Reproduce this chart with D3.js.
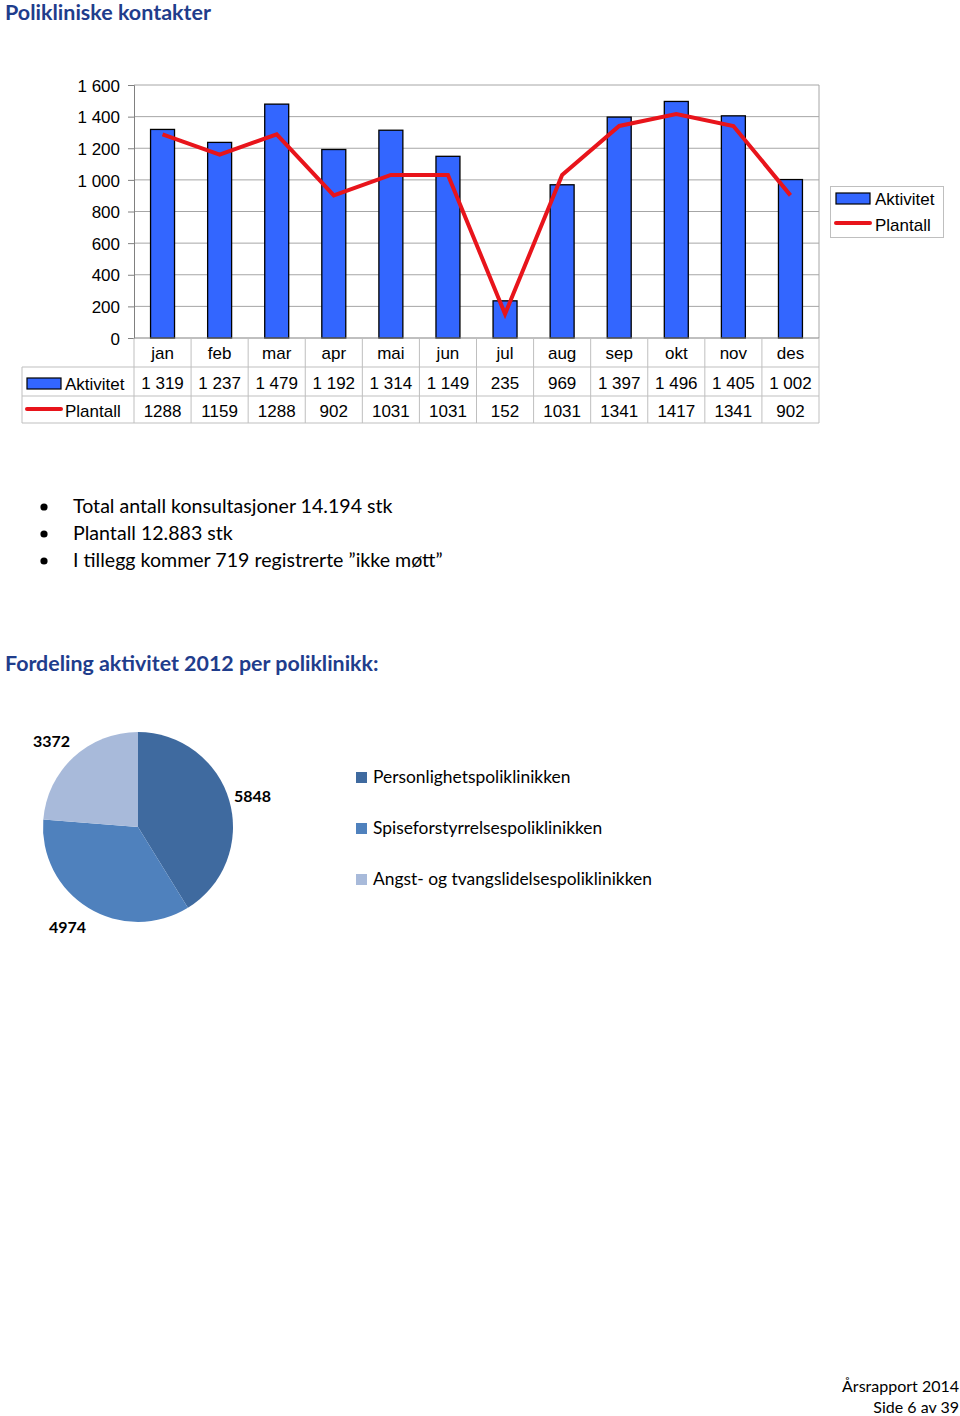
<!DOCTYPE html>
<html><head><meta charset="utf-8">
<script src="https://cdn.jsdelivr.net/npm/d3@7"></script>
<style>
body{margin:0;background:#fff;}
svg{display:block;}
</style></head>
<body>
<svg id="c" width="960" height="1416"></svg>
<script>
const months = ["jan","feb","mar","apr","mai","jun","jul","aug","sep","okt","nov","des"];
const aktivitet = [1319,1237,1479,1192,1314,1149,235,969,1397,1496,1405,1002];
const plantall = [1288,1159,1288,902,1031,1031,152,1031,1341,1417,1341,902];
const aktivitetLabels = ["1 319","1 237","1 479","1 192","1 314","1 149","235","969","1 397","1 496","1 405","1 002"];
const plantallLabels = ["1288","1159","1288","902","1031","1031","152","1031","1341","1417","1341","902"];
const yTicks = [0,200,400,600,800,1000,1200,1400,1600];
const yTickLabels = ["0","200","400","600","800","1 000","1 200","1 400","1 600"];
const seriesNames = ["Aktivitet","Plantall"];

const clinics = ["Personlighetspoliklinikken","Spiseforstyrrelsespoliklinikken","Angst- og tvangslidelsespoliklinikken"];
const clinicValues = [5848,4974,3372];
const clinicColors = ["#3F6A9F","#4F81BD","#A8BADA"];

const bullets = ["Total antall konsultasjoner 14.194 stk","Plantall 12.883 stk","I tillegg kommer 719 registrerte \u201Dikke m\u00f8tt\u201D"];

const svg = d3.select("#c");
const arial = "'Liberation Sans', Arial, sans-serif";
const cal = "Lato, 'Open Sans', sans-serif";
const titleBlue = "#1F3D8C";

// Title
svg.append("text").attr("x",5).attr("y",20).attr("font-family",cal).attr("font-weight","bold")
  .attr("font-size",21.5).attr("fill",titleBlue).text("Polikliniske kontakter");

// Chart
const L=134, R=819, T=85, B=338;
const x = d3.scaleBand().domain(months).range([L,R]);
const y = d3.scaleLinear().domain([0,1600]).range([B,T]);

const g = svg.append("g");
g.selectAll("line.grid").data(yTicks.slice(1)).join("line")
  .attr("x1",L).attr("x2",R).attr("y1",d=>y(d)).attr("y2",d=>y(d))
  .attr("stroke","#a6a6a6").attr("stroke-width",1);
g.append("line").attr("x1",R).attr("x2",R).attr("y1",T).attr("y2",B).attr("stroke","#a6a6a6");

const yAxis = d3.axisLeft(y).tickValues(yTicks).tickFormat((d,i)=>yTickLabels[i]).tickSize(6).tickPadding(8);
const ax = g.append("g").attr("transform",`translate(${L},0)`).call(yAxis);
ax.select(".domain").attr("stroke","#808080");
ax.selectAll(".tick line").attr("stroke","#808080");
ax.selectAll("text").attr("font-family",arial).attr("font-size",17).attr("fill","#000").attr("dy","0.36em");

const bw = x.bandwidth()*0.42;
g.selectAll("rect.bar").data(aktivitet).join("rect")
  .attr("x",(d,i)=>x(months[i])+x.bandwidth()/2-bw/2)
  .attr("y",d=>y(d)).attr("width",bw).attr("height",d=>B-y(d))
  .attr("fill","#3366FF").attr("stroke","#000").attr("stroke-width",1.3);

g.append("line").attr("x1",L).attr("x2",R).attr("y1",B).attr("y2",B).attr("stroke","#808080");

const line = d3.line().x((d,i)=>x(months[i])+x.bandwidth()/2).y(d=>y(d));
g.append("path").datum(plantall).attr("d",line).attr("fill","none")
  .attr("stroke","#E8141B").attr("stroke-width",4).attr("stroke-linejoin","miter");

// data table
const rows=[338,367,396,423];
const tc="#bfbfbf";
g.append("line").attr("x1",22).attr("x2",R).attr("y1",rows[1]).attr("y2",rows[1]).attr("stroke",tc);
g.append("line").attr("x1",22).attr("x2",R).attr("y1",rows[2]).attr("y2",rows[2]).attr("stroke",tc);
g.append("line").attr("x1",22).attr("x2",R).attr("y1",rows[3]).attr("y2",rows[3]).attr("stroke",tc);
g.append("line").attr("x1",22).attr("x2",22).attr("y1",rows[1]).attr("y2",rows[3]).attr("stroke",tc);
g.selectAll("line.vb").data(months.concat(["_end"])).join("line")
  .attr("x1",(d,i)=>L+i*x.step()).attr("x2",(d,i)=>L+i*x.step())
  .attr("y1",B).attr("y2",rows[3]).attr("stroke",tc);

const txt = (sel)=>sel.attr("font-family",arial).attr("font-size",17).attr("fill","#000").attr("text-anchor","middle");
g.selectAll("text.m").data(months).join("text").call(txt)
  .attr("x",d=>x(d)+x.bandwidth()/2).attr("y",359).text(d=>d);
g.selectAll("text.a").data(aktivitetLabels).join("text").call(txt)
  .attr("x",(d,i)=>x(months[i])+x.bandwidth()/2).attr("y",389).text(d=>d);
g.selectAll("text.p").data(plantallLabels).join("text").call(txt)
  .attr("x",(d,i)=>x(months[i])+x.bandwidth()/2).attr("y",417).text(d=>d);

g.append("rect").attr("x",27).attr("y",378).attr("width",34).attr("height",11).attr("fill","#3366FF").attr("stroke","#000").attr("stroke-width",1.2);
g.append("text").call(txt).attr("text-anchor","start").attr("x",65).attr("y",390).text(seriesNames[0]);
g.append("line").attr("x1",27).attr("x2",61).attr("y1",409).attr("y2",409).attr("stroke","#E8141B").attr("stroke-width",4).attr("stroke-linecap","round");
g.append("text").call(txt).attr("text-anchor","start").attr("x",65).attr("y",417).text(seriesNames[1]);

// legend box
g.append("rect").attr("x",830.5).attr("y",186.5).attr("width",113).attr("height",51).attr("fill","#fff").attr("stroke","#bfbfbf");
g.append("rect").attr("x",836).attr("y",193).attr("width",34).attr("height",11).attr("fill","#3366FF").attr("stroke","#000").attr("stroke-width",1.2);
g.append("text").call(txt).attr("text-anchor","start").attr("x",875).attr("y",205).text(seriesNames[0]);
g.append("line").attr("x1",836).attr("x2",870).attr("y1",223).attr("y2",223).attr("stroke","#E8141B").attr("stroke-width",4).attr("stroke-linecap","round");
g.append("text").call(txt).attr("text-anchor","start").attr("x",875).attr("y",231).text(seriesNames[1]);

// bullets
const bl = svg.append("g");
bullets.forEach((b,i)=>{
  const yy = 513+i*27;
  bl.append("circle").attr("cx",44).attr("cy",yy-6).attr("r",3.6).attr("fill","#000");
  bl.append("text").attr("x",73).attr("y",yy).attr("font-family",cal).attr("font-size",19.6).attr("fill","#000").text(b);
});

// heading 2
svg.append("text").attr("x",5).attr("y",671).attr("font-family",cal).attr("font-weight","bold")
  .attr("font-size",21.4).attr("fill",titleBlue).text("Fordeling aktivitet 2012 per poliklinikk:");

// pie
const pg = svg.append("g").attr("transform","translate(138,827)");
const pie = d3.pie().sort(null)(clinicValues);
const arc = d3.arc().innerRadius(0).outerRadius(95);
pg.selectAll("path").data(pie).join("path").attr("d",arc).attr("fill",(d,i)=>clinicColors[i]);

const pieLabelPos = [[234,802],[49,933],[33,747]];
svg.selectAll("text.pl").data(clinicValues).join("text")
  .attr("x",(d,i)=>pieLabelPos[i][0]).attr("y",(d,i)=>pieLabelPos[i][1])
  .attr("font-family",cal).attr("font-weight","bold").attr("font-size",16).attr("fill","#000")
  .text(d=>d);

// pie legend
const lg = svg.append("g");
clinics.forEach((c,i)=>{
  const yy = 783+i*51;
  lg.append("rect").attr("x",356).attr("y",yy-11).attr("width",11).attr("height",11).attr("fill",clinicColors[i]);
  lg.append("text").attr("x",373).attr("y",yy).attr("font-family",cal).attr("font-size",17.4).attr("fill","#000").text(c);
});

// footer
svg.append("text").attr("x",959).attr("y",1392).attr("text-anchor","end").attr("font-family",cal).attr("font-size",16).text("\u00C5rsrapport 2014");
svg.append("text").attr("x",959).attr("y",1413).attr("text-anchor","end").attr("font-family",cal).attr("font-size",16).text("Side 6 av 39");
</script>
</body></html>
